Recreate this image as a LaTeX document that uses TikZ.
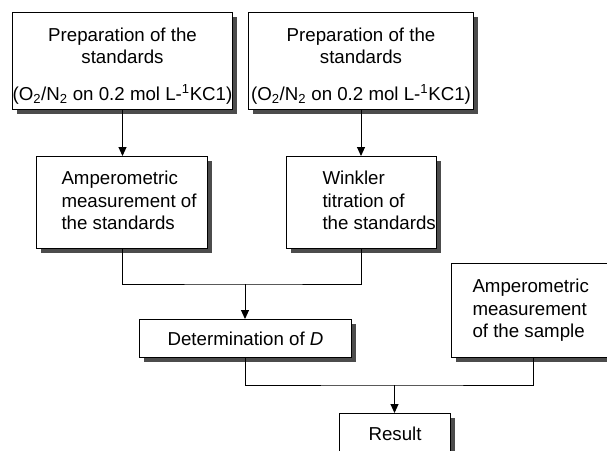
\documentclass[tikz,border=0pt]{standalone}
\usepackage{fontspec}
\setmainfont{Liberation Sans}
\usetikzlibrary{arrows.meta,shadows}
\begin{document}
\begin{tikzpicture}[x=1pt,y=-1pt,
  font=\fontsize{18.7}{22.5}\selectfont,
  box/.style={draw=black, line width=1pt, fill=white, rectangle, inner sep=0pt, anchor=north west,
    drop shadow={opacity=1, fill=black!70, shadow xshift=4pt, shadow yshift=-4pt}},
  link/.style={line width=1pt, draw=black},
  arrowlink/.style={link, -{Triangle[length=9pt,width=8pt]}}
]
\useasboundingbox (0,0) rectangle (607,450);
\clip (0,0) rectangle (607,450);

\node[box, minimum width=220pt, minimum height=97pt] (p1) at (12,12)
  {\begin{tabular}{@{}c@{}}\rule{0pt}{25.75pt}Preparation of the\\ standards\\[14pt] (O\textsubscript{2}/N\textsubscript{2} on 0.2 mol L-\textsuperscript{1}KC1)\end{tabular}};
\node[box, minimum width=225pt, minimum height=97pt] (p2) at (248,12)
  {\begin{tabular}{@{}c@{}}\rule{0pt}{25.75pt}Preparation of the\\ standards\\[14pt] (O\textsubscript{2}/N\textsubscript{2} on 0.2 mol L-\textsuperscript{1}KC1)\end{tabular}};

\node[box, minimum width=171pt, minimum height=92pt] (a1) at (36,156)
  {\hspace*{25pt}\begin{tabular}{@{}l@{}}Amperometric\\ measurement of\\ the standards\end{tabular}\hspace*{11pt}};
\node[box, minimum width=150pt, minimum height=92pt] (w) at (286,156)
  {\hspace*{36pt}\begin{tabular}{@{}l@{}}Winkler\\ titration of\\ the standards\end{tabular}\hspace*{1pt}};

\node[box, minimum width=212pt, minimum height=38pt] (d) at (139,319)
  {Determination of \textit{D}};
\node[box, minimum width=164pt, minimum height=94pt] (s) at (451,263)
  {\hspace*{21pt}\begin{tabular}{@{}l@{}}Amperometric\\ measurement\\ of the sample\end{tabular}\hspace*{27pt}};

\node[box, minimum width=111pt, minimum height=40pt] (r) at (339,413) {Result};

\draw[arrowlink] (p1.south) -- (p1.south |- a1.north);
\draw[arrowlink] (p2.south) -- (p2.south |- w.north);

\coordinate (j1) at (245,284);
\draw[link] (a1.south) |- (j1) -| (w.south);
\draw[arrowlink] (j1) -- (j1 |- d.north);

\coordinate (j2) at (394.5,385);
\draw[link] (d.south) |- (j2) -| (s.south);
\draw[arrowlink] (j2) -- (j2 |- r.north);
\end{tikzpicture}
\end{document}
